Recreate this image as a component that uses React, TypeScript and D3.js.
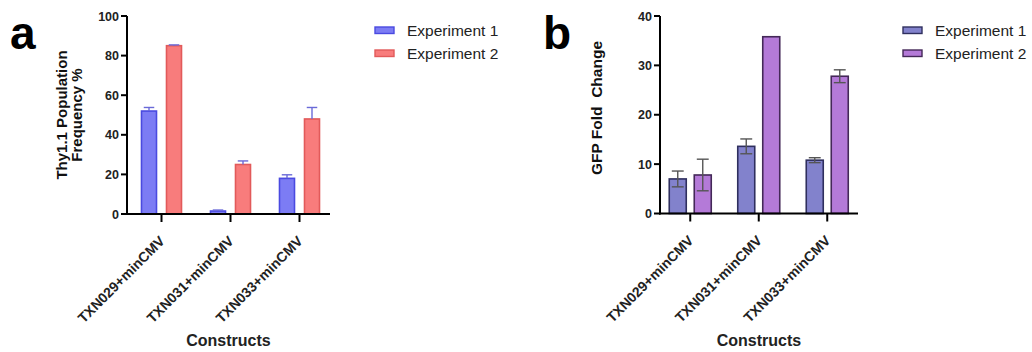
import * as d3 from 'd3';

const constructs = ['TXN029+minCMV', 'TXN031+minCMV', 'TXN033+minCMV'];
const seriesNames = ['Experiment 1', 'Experiment 2'];

// panel a: Thy1.1 population frequency %
const thyExp1 = [52, 1.5, 18];
const thyExp2 = [85, 25, 48];
const thyErr1 = [1.8, 0.5, 1.8];
const thyErr2 = [0.4, 1.8, 5.8];
const thyTicks = [0, 20, 40, 60, 80, 100];

// panel b: GFP fold change
const gfpExp1 = [7, 13.6, 10.8];
const gfpExp2 = [7.8, 35.8, 27.8];
const gfpErr1 = [1.6, 1.5, 0.5];
const gfpErr2 = [3.2, 0, 1.3];
const gfpTicks = [0, 10, 20, 30, 40];

const FONT = '"Liberation Sans", Arial, sans-serif';

type PanelProps = {
  letter: string;
  axisX: number;
  axisEnd: number;
  bandStart: number;
  bandEnd: number;
  groupHalf: number;
  innerPad: number;
  yMax: number;
  yBottom: number;
  yTop: number;
  ticks: number[];
  values: number[][];
  errors: number[][];
  bothWays: boolean;
  fills: string[];
  strokes: string[];
  errColor: string;
  yTitle: string[];
  yTitleX: number;
  yTitleY: number;
  yTitleSize: number;
  legendX: number;
};

function Panel(p: PanelProps) {
  const x0 = d3.scaleBand<string>().domain(constructs).range([p.bandStart, p.bandEnd]).padding(0);
  const x1 = d3
    .scaleBand<string>()
    .domain(seriesNames)
    .range([-p.groupHalf, p.groupHalf])
    .paddingInner(p.innerPad)
    .paddingOuter(0);
  const y = d3.scaleLinear().domain([0, p.yMax]).range([p.yBottom, p.yTop]);
  const xMid = (p.axisX + p.axisEnd) / 2;

  return (
    <g>
      <text x={p.axisX - 117} y={49} fontSize={46} fontWeight="bold" fontFamily={FONT} fill="#000">
        {p.letter}
      </text>

      {p.yTitle.map((line, i) => (
        <text
          key={line}
          transform={`translate(${p.yTitleX + i * 15},${p.yTitleY}) rotate(-90)`}
          textAnchor="middle"
          fontSize={p.yTitleSize}
          fontWeight="bold"
          fontFamily={FONT}
          fill="#111"
          style={{ whiteSpace: 'pre' }}
        >
          {line}
        </text>
      ))}

      {/* bars */}
      {constructs.map((c, ci) =>
        seriesNames.map((s, si) => {
          const v = p.values[si][ci];
          const e = p.errors[si][ci];
          const bx = (x0(c) ?? 0) + x0.bandwidth() / 2 + (x1(s) ?? 0);
          const cx = bx + x1.bandwidth() / 2;
          const capW = x1.bandwidth() * 0.7;
          return (
            <g key={c + s}>
              <rect
                x={bx}
                y={y(v)}
                width={x1.bandwidth()}
                height={p.yBottom - y(v)}
                fill={p.fills[si]}
                stroke={p.strokes[si]}
                strokeWidth={1.6}
              />
              {e > 0 && (
                <g stroke={p.errColor} strokeWidth={1.4}>
                  <line x1={cx} x2={cx} y1={y(p.bothWays ? v - e : v)} y2={y(v + e)} />
                  <line x1={cx - capW / 2} x2={cx + capW / 2} y1={y(v + e)} y2={y(v + e)} />
                  {p.bothWays && (
                    <line x1={cx - capW / 2} x2={cx + capW / 2} y1={y(v - e)} y2={y(v - e)} />
                  )}
                </g>
              )}
            </g>
          );
        })
      )}

      {/* y axis */}
      <line x1={p.axisX} x2={p.axisX} y1={p.yTop} y2={p.yBottom + 1} stroke="#000" strokeWidth={2} />
      {p.ticks.map((t) => (
        <g key={t}>
          <line x1={p.axisX - 6} x2={p.axisX} y1={y(t)} y2={y(t)} stroke="#000" strokeWidth={2} />
          <text
            x={p.axisX - 8}
            y={y(t) + 4.5}
            textAnchor="end"
            fontSize={12.5}
            fontWeight="bold"
            fontFamily={FONT}
            fill="#222"
          >
            {t}
          </text>
        </g>
      ))}

      {/* x axis */}
      <line x1={p.axisX - 1} x2={p.axisEnd} y1={p.yBottom} y2={p.yBottom} stroke="#000" strokeWidth={2} />
      {constructs.map((c) => {
        const cx = (x0(c) ?? 0) + x0.bandwidth() / 2;
        return (
          <g key={c}>
            <line x1={cx} x2={cx} y1={p.yBottom} y2={p.yBottom + 8} stroke="#000" strokeWidth={2} />
            <text
              transform={`translate(${cx + 4},${p.yBottom + 28}) rotate(-45)`}
              textAnchor="end"
              fontSize={14}
              fontWeight="bold"
              fontFamily={FONT}
              fill="#222"
            >
              {c}
            </text>
          </g>
        );
      })}
      <text x={xMid} y={346} textAnchor="middle" fontSize={16} fontWeight="bold" fontFamily={FONT} fill="#222">
        Constructs
      </text>

      {/* legend */}
      {seriesNames.map((s, si) => (
        <g key={s} transform={`translate(${p.legendX},${30 + si * 23})`}>
          <rect x={0} y={-3} width={19} height={6.5} fill={p.fills[si]} stroke={p.strokes[si]} strokeWidth={1.4} />
          <text x={32} y={5.5} fontSize={15.5} fontFamily={FONT} fill="#222">
            {s}
          </text>
        </g>
      ))}
    </g>
  );
}

export default function App() {
  return (
    <svg
      width={1032}
      height={352}
      viewBox="0 0 1032 352"
      style={{ position: 'absolute', left: 0, top: 0, background: '#fff' }}
    >
      <rect width={1032} height={352} fill="#fff" />
      <Panel
        letter="a"
        axisX={127}
        axisEnd={330}
        bandStart={127}
        bandEnd={334}
        groupHalf={20}
        innerPad={0.4}
        yMax={100}
        yBottom={214}
        yTop={16}
        ticks={thyTicks}
        values={[thyExp1, thyExp2]}
        errors={[thyErr1, thyErr2]}
        bothWays={false}
        fills={['#7c7cf4', '#f87c7c']}
        strokes={['#4a4ae0', '#e25a5a']}
        errColor="#6a6ad8"
        yTitle={['Thy1.1 Population', 'Frequency %']}
        yTitleX={67}
        yTitleY={115}
        yTitleSize={15}
        legendX={375}
      />
      <Panel
        letter="b"
        axisX={660}
        axisEnd={858}
        bandStart={656}
        bandEnd={861.5}
        groupHalf={21}
        innerPad={0.32}
        yMax={40}
        yBottom={213.5}
        yTop={16}
        ticks={gfpTicks}
        values={[gfpExp1, gfpExp2]}
        errors={[gfpErr1, gfpErr2]}
        bothWays={true}
        fills={['#8282cc', '#b47ad8']}
        strokes={['#2f2f5e', '#442858']}
        errColor="#555"
        yTitle={['GFP Fold  Change']}
        yTitleX={602}
        yTitleY={108}
        yTitleSize={15.5}
        legendX={903}
      />
    </svg>
  );
}
